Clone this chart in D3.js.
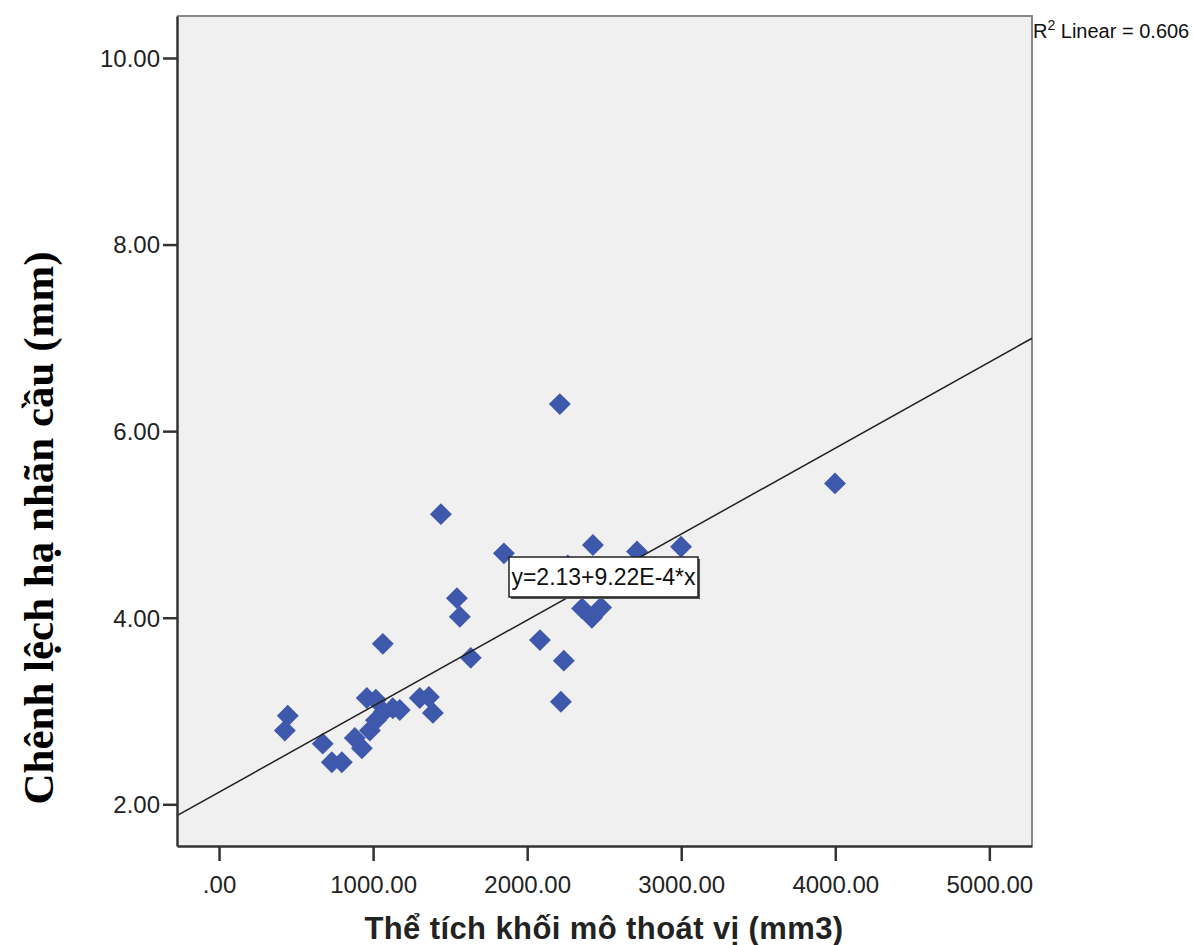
<!DOCTYPE html>
<html>
<head>
<meta charset="utf-8">
<script src="https://cdn.jsdelivr.net/npm/d3@7"></script>
<style>
    body { margin: 0; background: #fff; }
    svg text { font-family: "Liberation Sans", Arial, sans-serif; }
</style>
</head>
<body>
<div id="chart"></div>
<script>
// volume of herniated tissue (mm3) vs. globe position difference (mm)
const volumes = [446, 427, 673, 732, 797, 881, 927, 959, 979, 1018, 1018, 1069, 1128, 1173,
    1303, 1362, 1388, 1063, 1440, 1544, 1563, 1634, 1849, 2083, 2212, 2219, 2238, 2264,
    2427, 2713, 2999, 3998, 2356, 2480, 2420];
const diffs = [2.95, 2.79, 2.65, 2.45, 2.45, 2.71, 2.60, 3.14, 2.79, 3.12, 2.90, 2.99, 3.03, 3.01,
    3.14, 3.15, 2.98, 3.72, 5.11, 4.21, 4.01, 3.57, 4.69, 3.76, 6.29, 3.10, 3.54, 4.56,
    4.78, 4.71, 4.76, 5.44, 4.10, 4.11, 4.00];
const xTicks = [0, 1000, 2000, 3000, 4000, 5000];
const yTicks = [2, 4, 6, 8, 10];
const fit = { a: 2.13, b: 9.22e-4, r2: 0.606 };

const points = volumes.map((v, i) => ({ x: v, y: diffs[i] }));

const width = 1193;
const height = 945;
const plot = { left: 177, top: 16, right: 1032, bottom: 846 };

const svg = d3.select('#chart')
    .append('svg')
    .attr('width', width)
    .attr('height', height);

const x = d3.scaleLinear().domain([-273, 5277]).range([plot.left, plot.right]);
const y = d3.scaleLinear().domain([1.553, 10.45]).range([plot.bottom, plot.top]);

// plot background
svg.append('rect')
    .attr('x', plot.left)
    .attr('y', plot.top)
    .attr('width', plot.right - plot.left)
    .attr('height', plot.bottom - plot.top)
    .attr('fill', '#f0f0f0');

const clip = svg.append('defs').append('clipPath').attr('id', 'plot-clip');
clip.append('rect')
    .attr('x', plot.left)
    .attr('y', plot.top)
    .attr('width', plot.right - plot.left)
    .attr('height', plot.bottom - plot.top);

// top / right frame
svg.append('path')
    .attr('d', `M${plot.left},${plot.top}H${plot.right}V${plot.bottom}`)
    .attr('fill', 'none')
    .attr('stroke', '#888')
    .attr('stroke-width', 2);

// markers
const diamond = d3.symbol().type(d3.symbolSquare).size(240);
svg.append('g')
    .attr('clip-path', 'url(#plot-clip)')
    .selectAll('path')
    .data(points)
    .join('path')
    .attr('d', diamond)
    .attr('transform', d => `translate(${x(d.x)},${y(d.y)}) rotate(45)`)
    .attr('fill', '#3e58ac');

// fit line
const [x0, x1] = x.domain();
svg.append('line')
    .attr('clip-path', 'url(#plot-clip)')
    .attr('x1', x(x0))
    .attr('y1', y(fit.a + fit.b * x0))
    .attr('x2', x(x1))
    .attr('y2', y(fit.a + fit.b * x1))
    .attr('stroke', '#222')
    .attr('stroke-width', 1.5);

// axes
const xAxis = svg.append('g')
    .attr('transform', `translate(0,${plot.bottom})`)
    .call(d3.axisBottom(x).tickValues(xTicks).tickSize(15).tickSizeOuter(0)
        .tickFormat(d => d === 0 ? '.00' : d3.format('.2f')(d)));
const yAxis = svg.append('g')
    .attr('transform', `translate(${plot.left},0)`)
    .call(d3.axisLeft(y).tickValues(yTicks).tickSize(14).tickSizeOuter(0)
        .tickFormat(d3.format('.2f')));

[xAxis, yAxis].forEach(g => {
    g.select('.domain').attr('stroke', '#333').attr('stroke-width', 2.5);
    g.selectAll('.tick line').attr('stroke', '#333').attr('stroke-width', 2.5);
    g.selectAll('.tick text')
        .attr('fill', '#222')
        .style('font-size', '24px')
        .style('font-family', '"Liberation Sans", Arial, sans-serif');
});
xAxis.selectAll('.tick text').attr('dy', '1.2em');
yAxis.selectAll('.tick text').attr('x', -17).attr('dy', '0.35em');

// equation label
const eqG = svg.append('g');
const eqBox = { x: 509, y: 557, w: 189, h: 40 };
eqG.append('rect')
    .attr('x', eqBox.x + 2).attr('y', eqBox.y + 2)
    .attr('width', eqBox.w).attr('height', eqBox.h)
    .attr('fill', '#555');
eqG.append('rect')
    .attr('x', eqBox.x).attr('y', eqBox.y)
    .attr('width', eqBox.w).attr('height', eqBox.h)
    .attr('fill', '#fff')
    .attr('stroke', '#222')
    .attr('stroke-width', 1.5);
eqG.append('text')
    .attr('x', eqBox.x + eqBox.w / 2)
    .attr('y', eqBox.y + eqBox.h / 2)
    .attr('dy', '0.35em')
    .attr('text-anchor', 'middle')
    .style('font-size', '23px')
    .attr('fill', '#111')
    .text(`y=${fit.a}+${(fit.b * 1e4).toFixed(2)}E-4*x`);

// R² label
const r2 = svg.append('text')
    .attr('x', plot.right + 1)
    .attr('y', 38)
    .style('font-size', '20px')
    .attr('fill', '#111');
r2.append('tspan').text('R');
r2.append('tspan').attr('dy', -8).style('font-size', '14px').text('2');
r2.append('tspan').attr('dy', 8).text(` Linear = ${fit.r2}`);

// axis titles
svg.append('text')
    .attr('x', 604)
    .attr('y', 939)
    .attr('text-anchor', 'middle')
    .style('font-size', '31px')
    .style('letter-spacing', '0.4px')
    .style('font-weight', 'bold')
    .attr('fill', '#222')
    .text('Thể tích khối mô thoát vị (mm3)');

svg.append('text')
    .attr('transform', 'translate(53,528) rotate(-90)')
    .attr('text-anchor', 'middle')
    .style('font-family', '"Liberation Serif", "Times New Roman", serif')
    .style('font-size', '43px')
    .style('font-weight', 'bold')
    .attr('fill', '#000')
    .text('Chênh lệch hạ nhãn cầu (mm)');
</script>
</body>
</html>
